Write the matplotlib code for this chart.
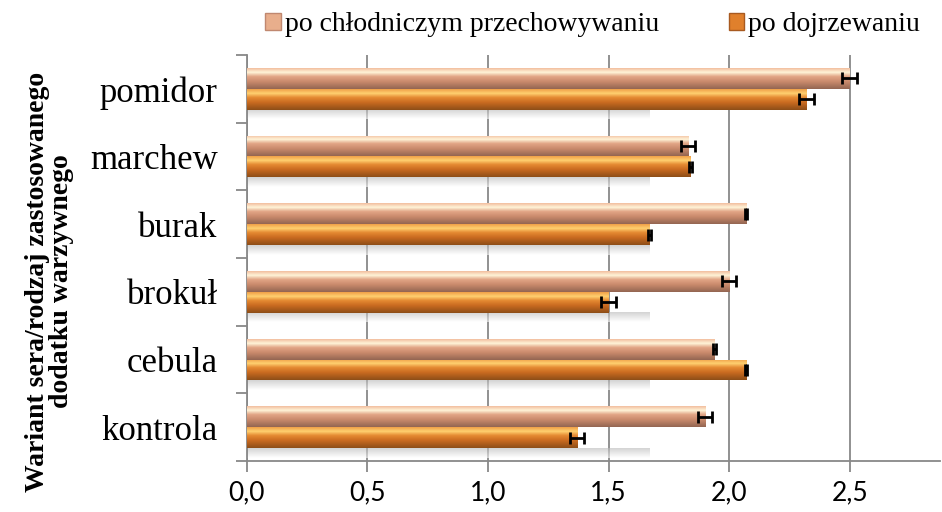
import matplotlib.pyplot as plt
import numpy as np
from matplotlib.colors import LinearSegmentedColormap
from matplotlib.patches import Patch

# dane (od dołu wykresu)
kategorie = ['kontrola', 'cebula', 'brokuł', 'burak', 'marchew', 'pomidor']
chlodnicze = [1.90, 1.94, 2.00, 2.07, 1.83, 2.50]
chlodnicze_err = [0.03, 0.005, 0.03, 0.005, 0.03, 0.03]
dojrzewanie = [1.37, 2.07, 1.50, 1.67, 1.84, 2.32]
dojrzewanie_err = [0.03, 0.005, 0.03, 0.005, 0.005, 0.03]
serie = ['po chłodniczym przechowywaniu', 'po dojrzewaniu']

serif = ['Liberation Serif', 'DejaVu Serif']

cm_chl = LinearSegmentedColormap.from_list('chl', [(0, '#946652'), (0.35, '#C98A6C'),
                                                   (0.6, '#E2A586'), (0.8, '#FFF4D8'),
                                                   (1, '#F2BFA0')])
cm_doj = LinearSegmentedColormap.from_list('doj', [(0, '#8E4E18'), (0.35, '#C86A20'),
                                                   (0.6, '#E58A32'), (0.8, '#FFD070'),
                                                   (1, '#F0A048')])
cm_cien = LinearSegmentedColormap.from_list('cien', [(0, '#FFFFFF'), (1, '#B8B8B8')])

fig = plt.figure(figsize=(9.42, 5.12), dpi=100)
ax = fig.add_axes([0.262, 0.0996, 0.736, 0.793])

y = np.arange(len(kategorie))
h = 0.31
grad = np.linspace(0, 1, 64).reshape(-1, 1)

# cien pod slupkami
for yi in y:
    sh = np.linspace(0, 1, 32).reshape(-1, 1)
    ax.imshow(sh, extent=[0, 1.67, yi - 0.45, yi - h], cmap=cm_cien, vmin=0, vmax=1,
              alpha=0.6, aspect='auto', origin='lower', zorder=1)

b1 = ax.barh(y + h / 2, chlodnicze, height=h, color='#D99A78', zorder=2)
b2 = ax.barh(y - h / 2, dojrzewanie, height=h, color='#D8782A', zorder=2)

for bars, cm in [(b1, cm_chl), (b2, cm_doj)]:
    for p in bars:
        x0, y0 = p.get_x(), p.get_y()
        im = ax.imshow(grad, extent=[x0, x0 + p.get_width(), y0, y0 + p.get_height()],
                       cmap=cm, aspect='auto', origin='lower', zorder=3)
        im.set_clip_path(p)

ax.errorbar(chlodnicze, y + h / 2, xerr=chlodnicze_err, fmt='none', ecolor='black',
            elinewidth=2, capsize=4, capthick=2, zorder=4)
ax.errorbar(dojrzewanie, y - h / 2, xerr=dojrzewanie_err, fmt='none', ecolor='black',
            elinewidth=2, capsize=4, capthick=2, zorder=4)

ax.set_xlim(0, 2.875)
ax.set_ylim(-0.5, len(kategorie) - 0.5)
ax.set_xticks(np.arange(0, 2.51, 0.5))
ax.set_xticklabels([f'{v:.1f}'.replace('.', ',') for v in np.arange(0, 2.51, 0.5)],
                   fontsize=19, family=['Lato', 'DejaVu Sans'])
ax.set_yticks(np.arange(-0.5, len(kategorie), 1))
ax.set_yticklabels([])
ax.set_yticks(y, minor=True)
ax.set_yticklabels(kategorie, minor=True, fontsize=25, family=serif)
ax.tick_params(axis='y', which='minor', length=0, pad=21)
ax.tick_params(axis='y', which='major', length=8, color='#888888', width=1.3)
ax.tick_params(axis='x', length=8, color='#888888', width=1.3, pad=6)

ax.grid(axis='x', color='#888888', linewidth=1.3, zorder=0)
ax.set_axisbelow(True)
for s in ['top', 'right']:
    ax.spines[s].set_visible(False)
for s in ['left', 'bottom']:
    ax.spines[s].set_color('#888888')
    ax.spines[s].set_linewidth(1.3)

fig.text(0.053, 0.45, 'Wariant sera/rodzaj zastosowanego\ndodatku warzywnego',
         rotation=90, ha='center', va='center', fontsize=20, fontweight='bold',
         family=serif, linespacing=0.95, multialignment='center')

uchwyty = [Patch(facecolor='#E8AE8C', edgecolor='#C08870'),
           Patch(facecolor='#E0802C', edgecolor='#A85A20')]
fig.legend(uchwyty, serie, loc='upper right', bbox_to_anchor=(1.003, 1.025), ncol=2,
           frameon=False, prop={'family': serif, 'size': 20}, handlelength=0.55,
           handleheight=0.55, handletextpad=0.15, columnspacing=2.5)

fig.savefig('out.png', dpi=100)
